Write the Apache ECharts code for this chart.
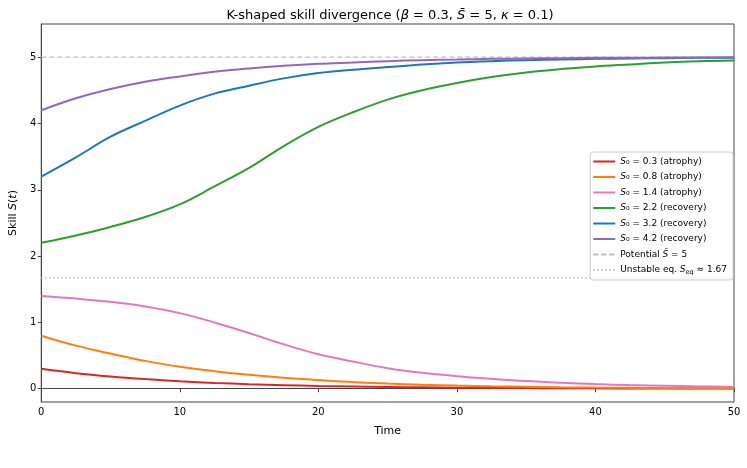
<!DOCTYPE html>
<html><head><meta charset="utf-8">
<script src="https://cdn.jsdelivr.net/npm/echarts@6/dist/echarts.min.js"></script>
<style>html,body{margin:0;padding:0;background:#fff}#c{width:747px;height:468px}</style>
</head><body><div id="c"></div>
<script>
// Time samples
const times = [0,2.5,5,7.5,10,12.5,15,17.5,20,22.5,25,27.5,30,32.5,35,37.5,40,42.5,45,47.5,50];
// Skill trajectories S(t)
const s03 = [0.30,0.235,0.185,0.145,0.112,0.088,0.068,0.054,0.042,0.033,0.026,0.021,0.016,0.013,0.010,0.008,0.006,0.005,0.004,0.003,0.002];
const s08 = [0.80,0.65,0.53,0.42,0.33,0.265,0.21,0.165,0.13,0.10,0.078,0.06,0.047,0.037,0.029,0.022,0.017,0.013,0.010,0.008,0.006];
const s14 = [1.40,1.36,1.31,1.24,1.14,1.00,0.84,0.67,0.52,0.41,0.31,0.24,0.19,0.15,0.115,0.09,0.07,0.055,0.045,0.035,0.028];
const s22 = [2.20,2.31,2.44,2.59,2.78,3.05,3.33,3.66,3.95,4.17,4.36,4.50,4.61,4.70,4.77,4.82,4.86,4.89,4.92,4.94,4.95];
const s32 = [3.20,3.49,3.80,4.04,4.27,4.45,4.57,4.68,4.76,4.81,4.85,4.89,4.92,4.94,4.955,4.965,4.975,4.98,4.985,4.99,4.99];
const s42 = [4.20,4.38,4.52,4.63,4.71,4.78,4.83,4.87,4.90,4.92,4.94,4.955,4.965,4.975,4.98,4.985,4.99,4.99,4.995,4.995,4.997];
const potential = 5;
const unstableEq = 1.67;
const seriesNames = ['a03','a08','a14','r22','r32','r42','pot','uns'];
const legendLabels = {
  a03: '{i|S}₀ = 0.3 (atrophy)',
  a08: '{i|S}₀ = 0.8 (atrophy)',
  a14: '{i|S}₀ = 1.4 (atrophy)',
  r22: '{i|S}₀ = 2.2 (recovery)',
  r32: '{i|S}₀ = 3.2 (recovery)',
  r42: '{i|S}₀ = 4.2 (recovery)',
  pot: 'Potential {i|S̄} = 5',
  uns: 'Unstable eq. {i|S}{sub|eq} ≈ 1.67'
};
const xTicks = [0,10,20,30,40,50];
const yTicks = [0,1,2,3,4,5];

const font = 'DejaVu Sans';
function pairs(arr){ return times.map((t,i)=>[t,arr[i]]); }
function curve(name, arr, color){
  return {name, type:'line', data:pairs(arr), showSymbol:false, symbol:'none', smooth:0.35,
    lineStyle:{color, width:2}, itemStyle:{color}, z:3};
}
function hline(name, val, type){
  return {name, type:'line', data:[[0,val],[50,val]], symbol:'none', showSymbol:false,
    lineStyle:{color:'#bdbdbd', width:1.3, type}, itemStyle:{color:'#bdbdbd'}, z:2};
}
const chart = echarts.init(document.getElementById('c'), null, {renderer:'canvas'});
chart.setOption({
  animation:false,
  textStyle:{fontFamily:font},
  title:{
    text:'K-shaped skill divergence ({i|β} = 0.3, {i|S̄} = 5, {i|κ} = 0.1)',
    left:385, top:4, textAlign:'center',
    textStyle:{fontFamily:font, fontSize:13, fontWeight:'normal', color:'#000',
      rich:{i:{fontFamily:font, fontSize:13, fontStyle:'italic', color:'#000'}}}
  },
  grid:{left:37, right:13, top:24, bottom:66, show:true, borderColor:'#444', borderWidth:1, backgroundColor:'transparent'},
  xAxis:{type:'value', min:0, max:50, interval:10,
    name:'Time', nameLocation:'middle', nameGap:24,
    nameTextStyle:{fontFamily:font, fontSize:11, color:'#000'},
    axisLine:{show:true, lineStyle:{color:'#444', width:1}},
    axisTick:{show:true, length:3.5, lineStyle:{color:'#444'}},
    axisLabel:{fontFamily:font, fontSize:10, color:'#000', margin:5},
    splitLine:{show:false}},
  yAxis:{type:'value', min:-0.2, max:5.5,
    name:'Skill {i|S}({i|t})', nameLocation:'middle', nameGap:19,
    nameTextStyle:{fontFamily:font, fontSize:11, color:'#000',
      rich:{i:{fontFamily:font, fontSize:11, fontStyle:'italic', color:'#000'}}},
    axisLine:{show:true, lineStyle:{color:'#444', width:1}},
    axisTick:{show:true, length:3.5, lineStyle:{color:'#444'}, customValues:yTicks},
    axisLabel:{fontFamily:font, fontSize:10, color:'#000', margin:5, customValues:yTicks},
    splitLine:{show:false}},
  legend:{
    data:seriesNames, orient:'vertical', right:14, top:152,
    itemWidth:22, itemHeight:8, itemGap:6.5,
    itemStyle:{opacity:0},
    lineStyle:{opacity:1},
    backgroundColor:'rgba(255,255,255,0.8)', borderColor:'#cccccc', borderWidth:1, borderRadius:3,
    padding:[5,6,4,2],
    formatter:n=>legendLabels[n],
    textStyle:{fontFamily:font, fontSize:9, color:'#000', padding:[0,0,0,0],
      rich:{i:{fontFamily:font, fontSize:9, fontStyle:'italic', color:'#000'},
            sub:{fontFamily:font, fontSize:6.5, color:'#000', padding:[5,0,0,0]}}}
  },
  series:[
    curve('a03', s03, '#d62728'),
    curve('a08', s08, '#ff7f0e'),
    curve('a14', s14, '#e377c2'),
    curve('r22', s22, '#2ca02c'),
    curve('r32', s32, '#1f77b4'),
    curve('r42', s42, '#9467bd'),
    hline('pot', potential, [5,3]),
    hline('uns', unstableEq, [1.5,2.5])
  ]
});
</script></body></html>
